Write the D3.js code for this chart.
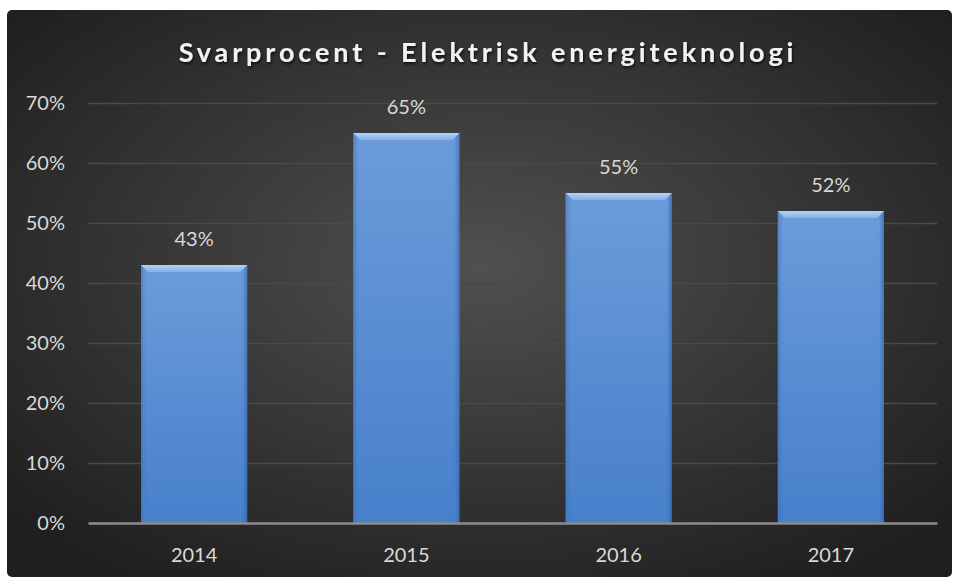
<!DOCTYPE html>
<html>
<head>
<meta charset="utf-8">
<title>Svarprocent</title>
<style>
  body { margin: 0; background: #fff; }
  text { font-family: Lato, "Open Sans", sans-serif; }
</style>
</head>
<body>
<svg width="953" height="578"></svg>
<script src="https://cdn.jsdelivr.net/npm/d3@7"></script>
<script>

    var years = ["2014", "2015", "2016", "2017"];
    var values = [0.43, 0.65, 0.55, 0.52];
    var yTicks = [0, 0.1, 0.2, 0.3, 0.4, 0.5, 0.6, 0.7];
    var title = "Svarprocent - Elektrisk energiteknologi";

    var svg = d3.select("svg"),
        margin = { top: 103, right: 16, bottom: 55, left: 88 },
        width = +svg.attr("width") - margin.left - margin.right,
        height = +svg.attr("height") - margin.top - margin.bottom;

    var defs = svg.append("defs");

    var bg = defs.append("radialGradient").attr("id", "bg")
        .attr("cx", "50%").attr("cy", "45%").attr("r", "65%");
    bg.append("stop").attr("offset", "0%").attr("stop-color", "#505050");
    bg.append("stop").attr("offset", "100%").attr("stop-color", "#202020");

    var barGrad = defs.append("linearGradient").attr("id", "bar")
        .attr("x1", 0).attr("y1", 0).attr("x2", 0).attr("y2", 1);
    barGrad.append("stop").attr("offset", "0%").attr("stop-color", "#6c9bda");
    barGrad.append("stop").attr("offset", "100%").attr("stop-color", "#4780cb");

    var sideGrad = defs.append("linearGradient").attr("id", "side")
        .attr("x1", 0).attr("y1", 0).attr("x2", 1).attr("y2", 0);
    sideGrad.append("stop").attr("offset", "0%").attr("stop-color", "#3a6db3").attr("stop-opacity", 0.45);
    sideGrad.append("stop").attr("offset", "5%").attr("stop-color", "#3a6db3").attr("stop-opacity", 0);
    sideGrad.append("stop").attr("offset", "95%").attr("stop-color", "#3a6db3").attr("stop-opacity", 0);
    sideGrad.append("stop").attr("offset", "100%").attr("stop-color", "#2f5f9f").attr("stop-opacity", 0.6);

    var bevGrad = defs.append("linearGradient").attr("id", "bevel")
        .attr("x1", 0).attr("y1", 0).attr("x2", 0).attr("y2", 1);
    bevGrad.append("stop").attr("offset", "0%").attr("stop-color", "#b4d3f5");
    bevGrad.append("stop").attr("offset", "100%").attr("stop-color", "#86b1e6");

    var shadow = defs.append("filter").attr("id", "shadow")
        .attr("x", "-5%").attr("y", "-20%").attr("width", "110%").attr("height", "160%");
    shadow.append("feDropShadow").attr("dx", 1).attr("dy", 2).attr("stdDeviation", 1.5)
        .attr("flood-color", "#000").attr("flood-opacity", 0.7);

    svg.append("rect")
        .attr("x", 7).attr("y", 10)
        .attr("width", 945).attr("height", 567)
        .attr("rx", 5)
        .attr("fill", "url(#bg)");

    svg.append("text")
        .attr("x", 488).attr("y", 62)
        .attr("text-anchor", "middle")
        .attr("fill", "#f2f2f2")
        .attr("font-size", 27)
        .attr("font-weight", "bold")
        .attr("letter-spacing", 3.9)
        .attr("filter", "url(#shadow)")
        .text(title);

    var g = svg.append("g").attr("transform", "translate(" + margin.left + "," + margin.top + ")");

    var x = d3.scaleBand()
        .domain(years)
        .range([0, width])
        .paddingInner(0.5)
        .paddingOuter(0.25);

    var y = d3.scaleLinear()
        .domain([0, 0.7])
        .range([height, 0]);

    // gridlines
    g.append("g")
        .selectAll("line")
        .data(yTicks.slice(1))
        .enter().append("line")
        .attr("x1", 0).attr("x2", width)
        .attr("y1", function (d) { return Math.round(y(d)) + 0.5; })
        .attr("y2", function (d) { return Math.round(y(d)) + 0.5; })
        .attr("stroke", "#4a4a4a")
        .attr("stroke-width", 1.5);

    var yAxis = g.append("g")
        .call(d3.axisLeft(y).tickValues(yTicks).tickFormat(d3.format(".0%")).tickSize(0).tickPadding(23));
    yAxis.select(".domain").remove();
    yAxis.selectAll("text")
        .attr("fill", "#d9d9d9")
        .attr("font-size", 20)
        .attr("font-family", "Lato, sans-serif");

    // bars
    var bars = g.append("g")
        .selectAll("g")
        .data(values)
        .enter().append("g");

    bars.append("rect")
        .attr("x", function (d, i) { return x(years[i]); })
        .attr("y", function (d) { return y(d); })
        .attr("width", x.bandwidth())
        .attr("height", function (d) { return height - y(d); })
        .attr("fill", "url(#bar)");

    bars.append("rect")
        .attr("x", function (d, i) { return x(years[i]); })
        .attr("y", function (d) { return y(d); })
        .attr("width", x.bandwidth())
        .attr("height", function (d) { return height - y(d); })
        .attr("fill", "url(#side)");

    // top bevel
    var bev = 7;
    bars.append("path")
        .attr("d", function (d, i) {
            var x0 = x(years[i]), x1 = x0 + x.bandwidth(), t = y(d);
            return "M" + x0 + "," + t + "L" + x1 + "," + t +
                "L" + (x1 - bev) + "," + (t + bev) + "L" + (x0 + bev) + "," + (t + bev) + "Z";
        })
        .attr("fill", "url(#bevel)");

    bars.append("text")
        .attr("x", function (d, i) { return x(years[i]) + x.bandwidth() / 2; })
        .attr("y", function (d) { return y(d) - 19; })
        .attr("text-anchor", "middle")
        .attr("fill", "#d9d9d9")
        .attr("font-size", 20)
        .text(function (d) { return d3.format(".0%")(d); });

    // baseline axis
    var xAxis = g.append("g")
        .attr("transform", "translate(0," + height + ")")
        .call(d3.axisBottom(x).tickSize(0).tickPadding(25));
    xAxis.select(".domain").attr("stroke", "#8c8c8c").attr("stroke-width", 2.5);
    xAxis.selectAll("text")
        .attr("fill", "#d9d9d9")
        .attr("font-size", 20)
        .attr("font-family", "Lato, sans-serif");

</script>
</body>
</html>
